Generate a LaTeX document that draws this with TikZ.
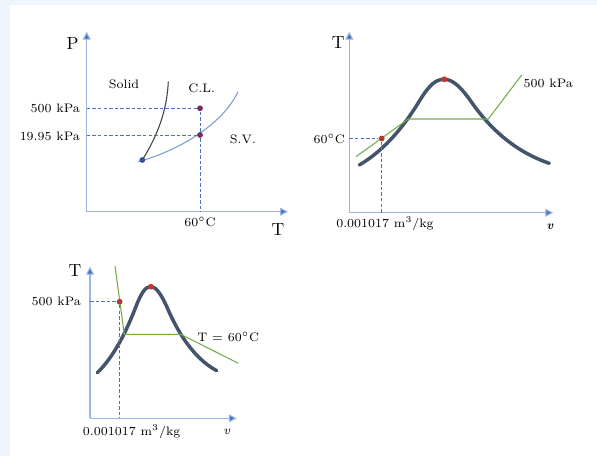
\documentclass[tikz,border=0pt]{standalone}
\usepackage{tikz}
\usetikzlibrary{arrows.meta, positioning, calc}
\definecolor{bgblue}{HTML}{EFF5FC}
\definecolor{axisblue}{HTML}{9DB5E0}
\definecolor{tipblue}{HTML}{4472C4}
\definecolor{domegray}{HTML}{44546A}
\definecolor{isogreen}{HTML}{70AD47}
\definecolor{dotpurple}{HTML}{7B2D5B}
\definecolor{dotred}{HTML}{C0392B}
\definecolor{tripleblue}{HTML}{2F5597}
\definecolor{fusegray}{HTML}{404040}
\definecolor{vapblue}{HTML}{7F9CC8}

\begin{document}
\begin{tikzpicture}[x=0.02cm, y=-0.02cm,
  axis/.style={draw=axisblue, line width=0.6pt, -{Triangle[length=4.5pt,width=4.5pt,fill=tipblue]}},
  guide/.style={draw=tipblue, line width=0.5pt, dash pattern=on 2pt off 1.2pt},
  dome/.style={draw=domegray, line width=2pt, line cap=round},
  isobar/.style={draw=isogreen, line width=0.6pt},
  dot/.style={circle, fill=dotpurple, inner sep=0pt, minimum size=3.3pt},
  lbl/.style={font=\scriptsize, inner sep=1pt},
  axlbl/.style={font=\normalsize, inner sep=1pt}]
\useasboundingbox (0,0) rectangle (597,456);
\fill[bgblue] (0,0) rectangle (597,456);
\fill[white] (10,5) rectangle (597,456);

% P-T diagram
\coordinate (o1) at (86.7,211.7);
\coordinate (xe1) at (288,211.7);
\coordinate (ye1) at (86.7,31.7);
\draw[axis] (o1) -- (xe1);
\draw[axis] (o1) -- (ye1);
\node[axlbl] (p1) at (72.7,43.3) {P};
\node[axlbl] (t1) at (278,230) {T};
\coordinate (tpc) at (142.3,160);
\draw[draw=fusegray, line width=0.6pt] (tpc) .. controls (158,135) and (167,110) .. (168.3,81.7);
\draw[draw=vapblue, line width=0.6pt] (138,161.7) .. controls (175,152) and (222,126) .. (238,91.7);
\node[dot] (hi1) at (200,108.3) {};
\node[dot] (lo1) at (200,135) {};
\node[dot, fill=tripleblue] (tp1) at (tpc) {};
\node[lbl, anchor=east] (p500) at (82,108.3) {500 kPa};
\node[lbl, anchor=east] (p1995) at (82,136) {19.95 kPa};
\coordinate (b1) at (200,211.7);
\draw[guide] (o1 |- hi1) -- (hi1);
\draw[guide] (o1 |- lo1) -- (lo1);
\draw[guide] (hi1) -- (lo1) -- (b1);
\node[lbl] (c60) at (200,221.7) {60$^\circ$C};
\node[lbl] (solid) at (124,84) {Solid};
\node[lbl] (cl) at (201.7,88.3) {C.L.};
\node[lbl] (sv) at (243,139.3) {S.V.};

% T-v diagram, 60 C
\coordinate (o2) at (349.3,212.7);
\coordinate (xe2) at (553.3,212.7);
\coordinate (ye2) at (349.3,31.7);
\draw[axis] (o2) -- (xe2);
\draw[axis] (o2) -- (ye2);
\node[axlbl] (t2) at (338.3,42.7) {T};
\draw[dome] (359.3,165) .. controls (385,150) and (405,125) .. (420,100)
  .. controls (430,84) and (436,79.3) .. (444.3,79.3)
  .. controls (452,79.3) and (460,86) .. (470,100)
  .. controls (485,122) and (510,150) .. (549.3,163.3);
\draw[isobar] (356,156.7) -- (408.3,119) -- (488.3,119) -- (521.7,75);
\node[dot, fill=dotred] (crit2) at (444.3,79.3) {};
\node[dot, fill=dotred!80!dotpurple] (st2) at (381.7,138.5) {};
\draw[guide] (o2 |- st2) -- (st2);
\draw[guide] (st2) -- (st2 |- o2);
\node[lbl, anchor=east] (c602) at (347,139) {60$^\circ$C};
\node[lbl] (p5002) at (548.3,83.3) {500 kPa};
\node[lbl] (vf2) at (385,224) {0.001017 m$^3$/kg};
\node[lbl] (v2) at (550,226.7) {\textbf{\textit{v}}};

% T-v diagram, 500 kPa
\coordinate (o3) at (90,418.3);
\coordinate (xe3) at (236.7,418.3);
\coordinate (ye3) at (90,266.7);
\draw[axis] (o3) -- (xe3);
\draw[axis] (o3) -- (ye3);
\node[axlbl] (t3) at (75,270.7) {T};
\draw[dome] (97.3,372.7) .. controls (113.3,357.4) and (126,332.4) .. (135.6,307.4)
  .. controls (141.8,291.4) and (145.7,286.7) .. (151,286.7)
  .. controls (155.8,286.7) and (160.8,293.4) .. (167.1,307.4)
  .. controls (176.5,329.4) and (192.1,357.4) .. (216.7,370.7);
\draw[isobar] (115,266) -- (124.3,334.3) -- (180.7,334.3) -- (238.3,363.3);
\node[dot, fill=dotred] (crit3) at (151,286.7) {};
\node[dot, fill=dotred!80!dotpurple] (st3) at (119.6,301.7) {};
\draw[guide] (o3 |- st3) -- (st3);
\draw[guide] (st3) -- (st3 |- o3);
\node[lbl, anchor=east] (p5003) at (83,301.7) {500 kPa};
\node[lbl] (t603) at (228.3,337.3) {T = 60$^\circ$C};
\node[lbl] (vf3) at (131.7,431.7) {0.001017 m$^3$/kg};
\node[lbl] (v3) at (226.7,431.7) {\textit{v}};
\end{tikzpicture}
\end{document}
